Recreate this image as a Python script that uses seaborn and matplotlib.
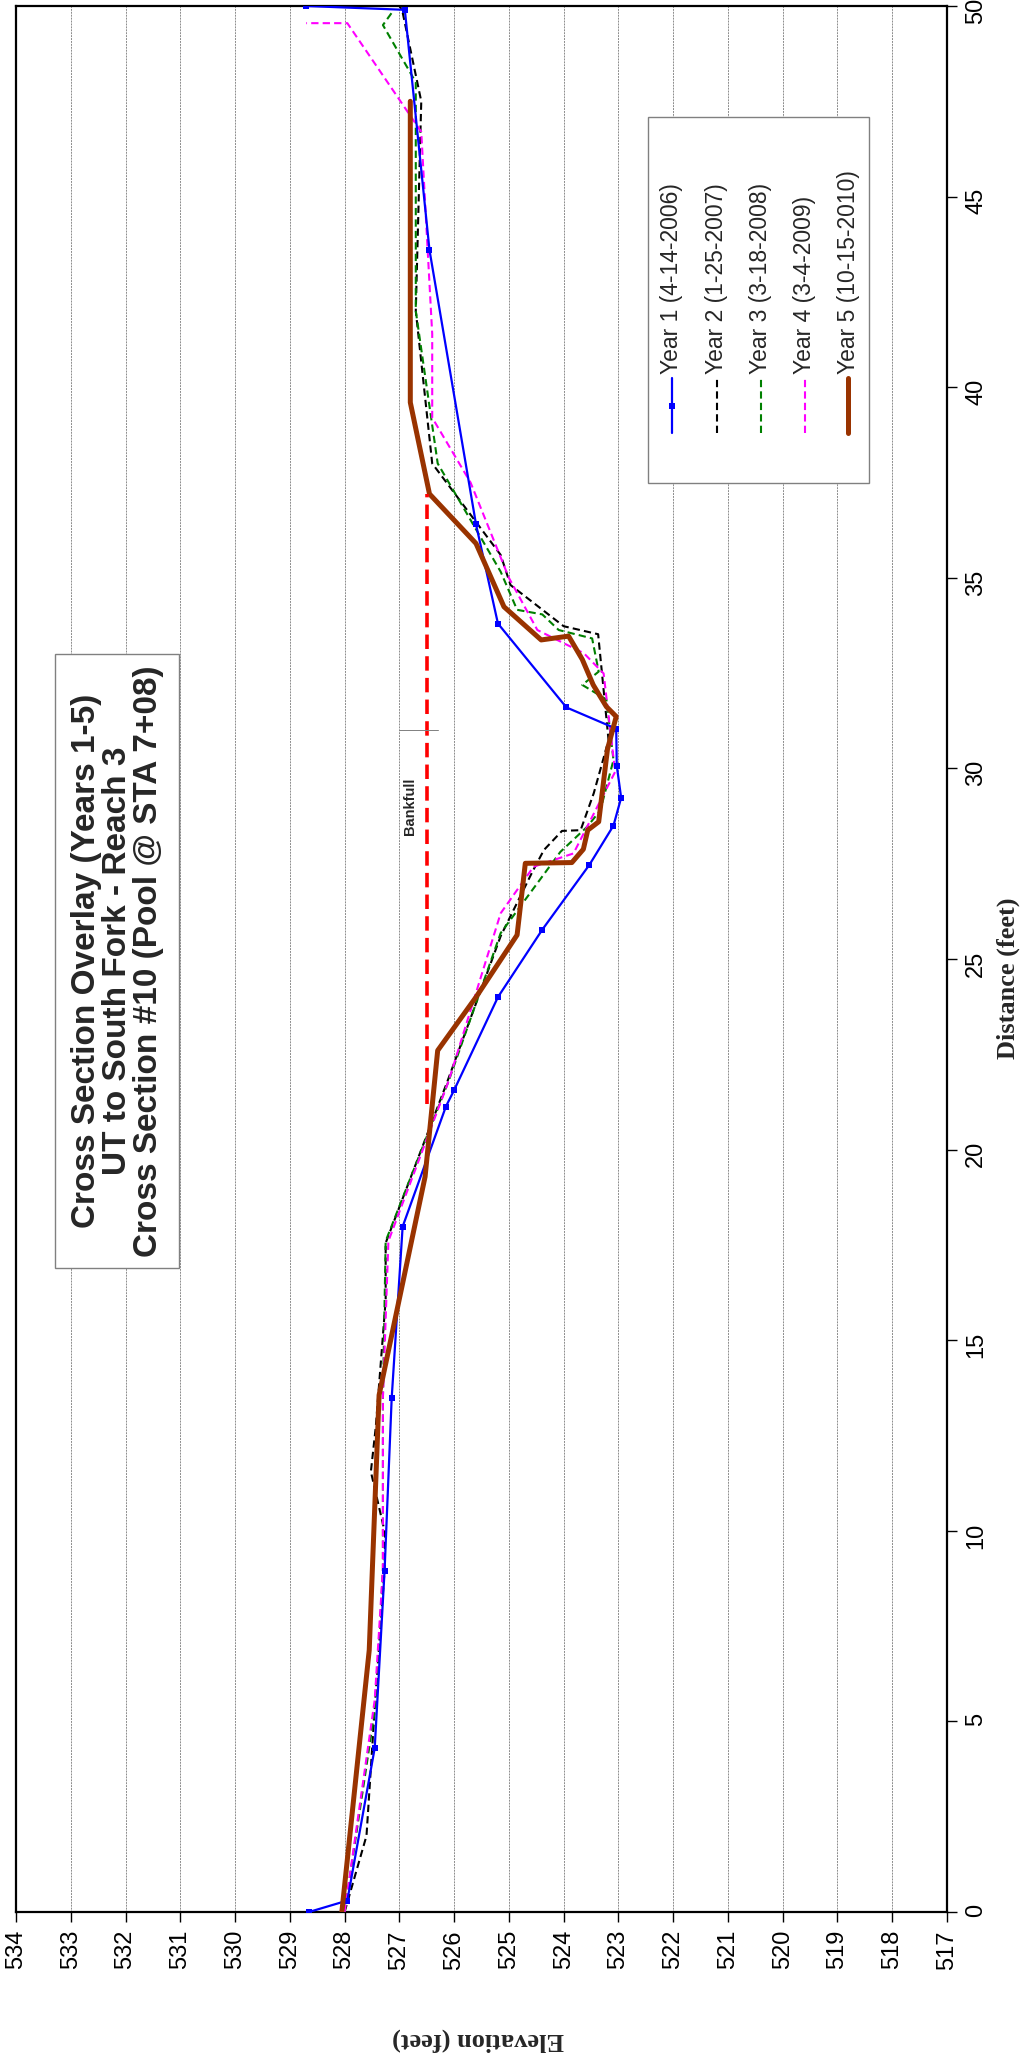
import matplotlib
matplotlib.use("Agg")
import matplotlib.pyplot as plt
import seaborn as sns
from matplotlib.patches import Rectangle
from matplotlib.lines import Line2D

sns.set_style("white")
plt.rcParams["font.family"] = ["Liberation Sans", "DejaVu Sans"]

# ---------------- data (distance ft, elevation ft) ----------------
y1_dist = [0.0, 0.3, 4.3, 8.95, 13.48, 17.98, 21.13, 21.56, 24.0, 25.77, 27.47, 28.5, 29.23,
           30.07, 31.04, 31.6, 33.8, 36.4, 43.6, 49.9, 50.0]
y1_elev = [528.65, 527.95, 527.45, 527.27, 527.14, 526.94, 526.15, 526.0, 525.2, 524.39, 523.53,
           523.09, 522.95, 523.03, 523.04, 523.95, 525.2, 525.6, 526.45, 526.9, 528.7]

y2_dist = [0.0, 2.0, 5.56, 8.97, 9.93, 11.55, 12.73, 16.05, 17.55, 21.8, 25.6, 27.29, 27.86,
           28.36, 28.38, 29.35, 30.74, 33.52, 33.73, 34.81, 35.6, 38.0, 42.0, 47.5, 49.9, 50.0]
y2_elev = [528.0, 527.6, 527.44, 527.27, 527.26, 527.52, 527.43, 527.25, 527.25, 526.12, 525.15,
           524.57, 524.36, 524.03, 523.69, 523.45, 523.18, 523.37, 524.0, 524.97, 525.15, 526.4,
           526.7, 526.6, 526.95, 527.0]

y3_dist = [0.0, 5.56, 9.0, 13.5, 17.6, 21.8, 25.68, 27.81, 28.47, 28.9, 30.22, 31.81, 32.19,
           32.54, 33.41, 33.63, 34.04, 34.16, 35.16, 38.0, 42.0, 48.0, 49.5, 49.9]
y3_elev = [528.0, 527.42, 527.3, 527.3, 527.25, 526.1, 525.15, 524.06, 523.57, 523.33, 523.09,
           523.22, 523.66, 523.36, 523.48, 524.09, 524.39, 524.85, 525.15, 526.3, 526.7, 526.7,
           527.3, 527.1]

y4_dist = [0.0, 5.56, 9.0, 13.5, 17.6, 21.8, 26.2, 27.42, 27.77, 29.91, 32.49, 33.02, 33.63,
           35.0, 37.5, 39.2, 41.4, 46.7, 49.55, 49.55]
y4_elev = [528.0, 527.45, 527.3, 527.3, 527.2, 526.1, 525.15, 524.55, 523.82, 523.06, 523.27,
           523.63, 524.48, 525.0, 525.7, 526.4, 526.4, 526.6, 527.95, 528.7]

y5_dist = [0.0, 6.87, 13.56, 19.29, 22.6, 24.0, 25.63, 27.51, 27.53, 27.88, 28.38, 28.6, 30.5,
           31.36, 31.62, 32.19, 32.86, 33.47, 33.37, 34.24, 35.9, 37.2, 39.6, 47.5]
y5_elev = [528.05, 527.55, 527.37, 526.53, 526.3, 525.6, 524.85, 524.7, 523.85, 523.64, 523.56,
           523.36, 523.2, 523.04, 523.22, 523.46, 523.66, 523.91, 524.41, 525.09, 525.6, 526.45,
           526.8, 526.8]

series_names = ["Year 1 (4-14-2006)", "Year 2 (1-25-2007)", "Year 3 (3-18-2008)",
                "Year 4 (3-4-2009)", "Year 5 (10-15-2010)"]

bankfull_elev = [526.5, 526.5]
bankfull_dist = [21.2, 37.2]

elev_ticks = list(range(517, 535))
dist_ticks = list(range(0, 51, 5))

title_text = ("Cross Section Overlay (Years 1-5)\n"
              "UT to South Fork - Reach 3\n"
              "Cross Section #10 (Pool @ STA 7+08)")

# ---------------- figure ----------------
W, H = 1029, 2059
fig = plt.figure(figsize=(W / 100, H / 100), dpi=100)
ax_l, ax_r, ax_t, ax_b = 16, 947, 6, 1912
ax = fig.add_axes([ax_l / W, (H - ax_b) / H, (ax_r - ax_l) / W, (ax_b - ax_t) / H])

styles = [
    dict(color="#0000FF", linestyle="-", linewidth=1.6, marker="s", markersize=5, zorder=4),
    dict(color="#000000", linestyle=(0, (3.5, 2)), linewidth=1.5, marker=None, markersize=0, zorder=3),
    dict(color="#008000", linestyle=(0, (3.5, 2)), linewidth=1.5, marker=None, markersize=0, zorder=3),
    dict(color="#FF00FF", linestyle=(0, (3.5, 2)), linewidth=1.5, marker=None, markersize=0, zorder=3),
    dict(color="#993300", linestyle="-", linewidth=3.6, marker=None, markersize=0, zorder=5),
]
all_d = [y1_dist, y2_dist, y3_dist, y4_dist, y5_dist]
all_e = [y1_elev, y2_elev, y3_elev, y4_elev, y5_elev]

for d, e, st in zip(all_d, all_e, styles):
    sns.lineplot(x=e, y=d, ax=ax, estimator=None, sort=False, legend=False,
                 color=st["color"], linestyle=st["linestyle"], linewidth=st["linewidth"],
                 marker=st["marker"], markersize=st["markersize"], markeredgewidth=0,
                 zorder=st["zorder"])

# bankfull
sns.lineplot(x=bankfull_elev, y=bankfull_dist, ax=ax, estimator=None, sort=False, legend=False,
             color="#FF0000", linestyle=(0, (4, 2)), linewidth=2.6, zorder=6)
ax.text(526.8, 29.0, "Bankfull", rotation=90, ha="center", va="center", fontsize=10.5,
        fontweight="bold", zorder=7)
ax.plot([527.0, 526.3], [31.0, 31.0], color="#808080", lw=0.7, zorder=6)

# axes
ax.set_xlim(534, 517)
ax.set_ylim(0, 50)
ax.set_xticks(elev_ticks)
ax.set_yticks(dist_ticks)
ax.yaxis.tick_right()
ax.yaxis.set_label_position("right")
ax.grid(axis="x", color="#8c8c8c", linewidth=0.7, linestyle=(0, (2, 1)))
ax.grid(axis="y", visible=False)
for sp in ax.spines.values():
    sp.set_color("black")
    sp.set_linewidth(1.6)
ax.tick_params(axis="x", direction="out", length=7, width=1, labelsize=17, labelrotation=90,
               pad=6, bottom=True, colors="black")
ax.tick_params(axis="y", direction="out", length=7, width=1, labelsize=17, labelrotation=90,
               pad=6, right=True, left=False, colors="black")

ax.set_xlabel("Elevation (feet)", rotation=180, fontfamily="Liberation Serif",
              fontweight="bold", fontsize=19, ha="center", va="center")
ax.xaxis.set_label_coords(0.496, -0.067)
ax.set_ylabel("Distance (feet)", rotation=90, fontfamily="Liberation Serif",
              fontweight="bold", fontsize=19, ha="center", va="center")
ax.yaxis.set_label_coords(1.066, 0.49)

# title box
ax.add_patch(Rectangle((533.28, 16.9), 531.03 - 533.28, 33.0 - 16.9, facecolor="white",
                       edgecolor="#808080", lw=1.0, zorder=8))
ax.text(532.15, 24.95, title_text, rotation=90, ha="center", va="center",
        multialignment="center", fontsize=24, fontweight="bold", linespacing=1.0, zorder=9)

# legend (rotated, drawn manually)
ax.add_patch(Rectangle((522.46, 37.5), 518.43 - 522.46, 47.1 - 37.5, facecolor="white",
                       edgecolor="#808080", lw=1.0, zorder=8))
leg_x = [522.03, 521.2, 520.4, 519.6, 518.8]
for xpos, name, st in zip(leg_x, series_names, styles):
    ax.add_line(Line2D([xpos, xpos], [38.8, 40.24], color=st["color"], linestyle=st["linestyle"],
                       linewidth=st["linewidth"], zorder=9))
    if st["marker"]:
        ax.add_line(Line2D([xpos], [39.5], color=st["color"], marker=st["marker"],
                           markersize=st["markersize"], markeredgewidth=0, zorder=10))
    ax.text(xpos, 40.35, name, rotation=90, ha="center", va="bottom", fontsize=16.5, zorder=10)

fig.savefig("out.png", dpi=100)
